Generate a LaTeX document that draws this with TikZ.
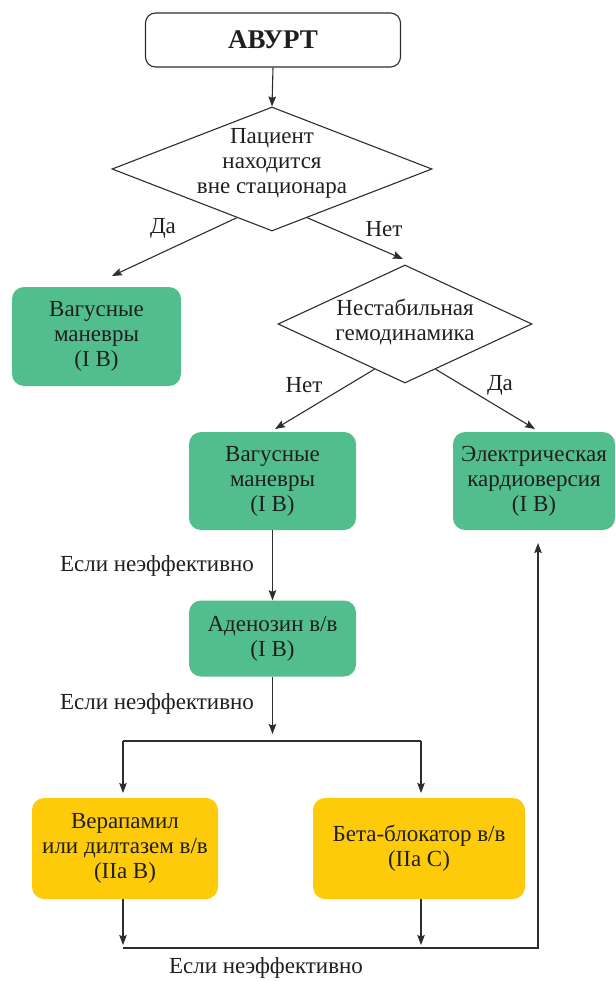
\documentclass[tikz,border=0pt]{standalone}
\usepackage{fontspec}
\setmainfont{Liberation Serif}
\usetikzlibrary{shapes.geometric,arrows.meta,calc}

\definecolor{boxgreen}{RGB}{83,190,141}
\definecolor{boxyellow}{RGB}{253,203,10}
\definecolor{linegray}{RGB}{45,45,45}

\tikzset{
  txt/.style={font=\fontsize{23}{25}\selectfont, align=center, text=black!88},
  lbl/.style={font=\fontsize{23}{25}\selectfont, text=black!88, inner sep=0pt},
  greenbox/.style={txt, fill=boxgreen, rounded corners=12pt, inner sep=0pt},
  yellowbox/.style={txt, fill=boxyellow, rounded corners=12pt, inner sep=0pt},
  decision/.style={diamond, draw=linegray, line width=1.1pt, inner sep=0pt},
  conn/.style={draw=linegray, line width=1.1pt},
  arr/.style={conn, -{Stealth[length=10pt,width=7.5pt,inset=1.5pt]}},
}

\begin{document}
\begin{tikzpicture}[x=1pt,y=-1pt]
  \useasboundingbox (0,0) rectangle (615,981);

  % start box
  \node[draw=linegray, line width=1.1pt, rounded corners=10pt, minimum width=255pt, minimum height=54pt,
        font=\fontsize{27}{28}\selectfont\bfseries, text=black!88] (start) at (273,40) {АВУРТ};

  % decisions: outline first, wording on top
  \node[decision, minimum width=320pt, minimum height=124pt] (d1) at (272,169) {};
  \node[txt] (d1text) at (272,163) {Пациент\\находится\\вне стационара};
  \node[decision, minimum width=254pt, minimum height=118pt] (d2) at (405,324) {};
  \node[txt] (d2text) at (405,322) {Нестабильная\\гемодинамика};

  % action boxes
  \node[greenbox, minimum width=169pt, minimum height=99pt] (vag1) at (96.5,336.5)
    {Вагусные\\маневры\\(I B)};
  \node[greenbox, minimum width=167pt, minimum height=98pt] (vag2) at (272.5,481)
    {Вагусные\\маневры\\(I B)};
  \node[greenbox, minimum width=162pt, minimum height=98pt] (cardio) at (534,481)
    {Электрическая\\кардиоверсия\\(I B)};
  \node[greenbox, minimum width=167pt, minimum height=76pt] (aden) at (272.5,638.5)
    {Аденозин в/в\\(I B)};
  \node[yellowbox, minimum width=186pt, minimum height=101pt] (verap) at (125,848.5)
    {Верапамил\\или дилтазем в/в\\(IIa B)};
  \node[yellowbox, minimum width=212pt, minimum height=101pt] (beta) at (419,848.5)
    {Бета-блокатор в/в\\(IIa C)};

  % free ends and junctions
  \coordinate (d1no)   at ($(d1.south)!0.22!(d1.east)$);
  \coordinate (d1yes)  at ($(d1.south)!0.22!(d1.west)$);
  \coordinate (tipL1)  at (112,276);
  \coordinate (tipD2)  at (403,259);
  \coordinate (d2no)   at ($(d2.south)!0.24!(d2.west)$);
  \coordinate (d2yes)  at ($(d2.south)!0.24!(d2.east)$);
  \coordinate (tipV2)  at (275,429);
  \coordinate (tipC)   at (535,429);
  \coordinate (splitTip) at (272.5,734);
  \coordinate (splitL) at (123,741);
  \coordinate (splitR) at (421,741);
  \coordinate (tipVer) at (123,793);
  \coordinate (tipBeta) at (421,793);
  \coordinate (joinL)  at (123,948);
  \coordinate (joinR)  at (421,948);
  \coordinate (joinE)  at (538,948);
  \coordinate (tipCard) at (538,543);

  % connectors
  \draw[arr] (start.south) -- (d1.north);
  \draw[arr] (d1yes) -- (tipL1);
  \draw[arr] (d1no) -- (tipD2);
  \draw[arr] (d2no) -- (tipV2);
  \draw[arr] (d2yes) -- (tipC);
  \draw[arr] (vag2.south) -- (aden.north);
  \draw[arr] (aden.south) -- (splitTip);
  \draw[conn] (splitL) -- (splitR);
  \draw[arr] (splitL) -- (tipVer);
  \draw[arr] (splitR) -- (tipBeta);
  \draw[arr] (verap.south -| joinL) -- ($(joinL)+(0,-3)$);
  \draw[arr] (beta.south -| joinR) -- ($(joinR)+(0,-3)$);
  \draw[arr] (joinL) -- (joinE) -- (tipCard);

  % branch labels
  \node[lbl] (l1) at (163,228) {Да};
  \node[lbl] (l2) at (384,229) {Нет};
  \node[lbl] (l3) at (304,385) {Нет};
  \node[lbl] (l4) at (500,385) {Да};
  \node[lbl] (l5) at (157,566) {Если неэффективно};
  \node[lbl] (l6) at (157,704) {Если неэффективно};
  \node[lbl] (l7) at (266,968) {Если неэффективно};
\end{tikzpicture}
\end{document}
